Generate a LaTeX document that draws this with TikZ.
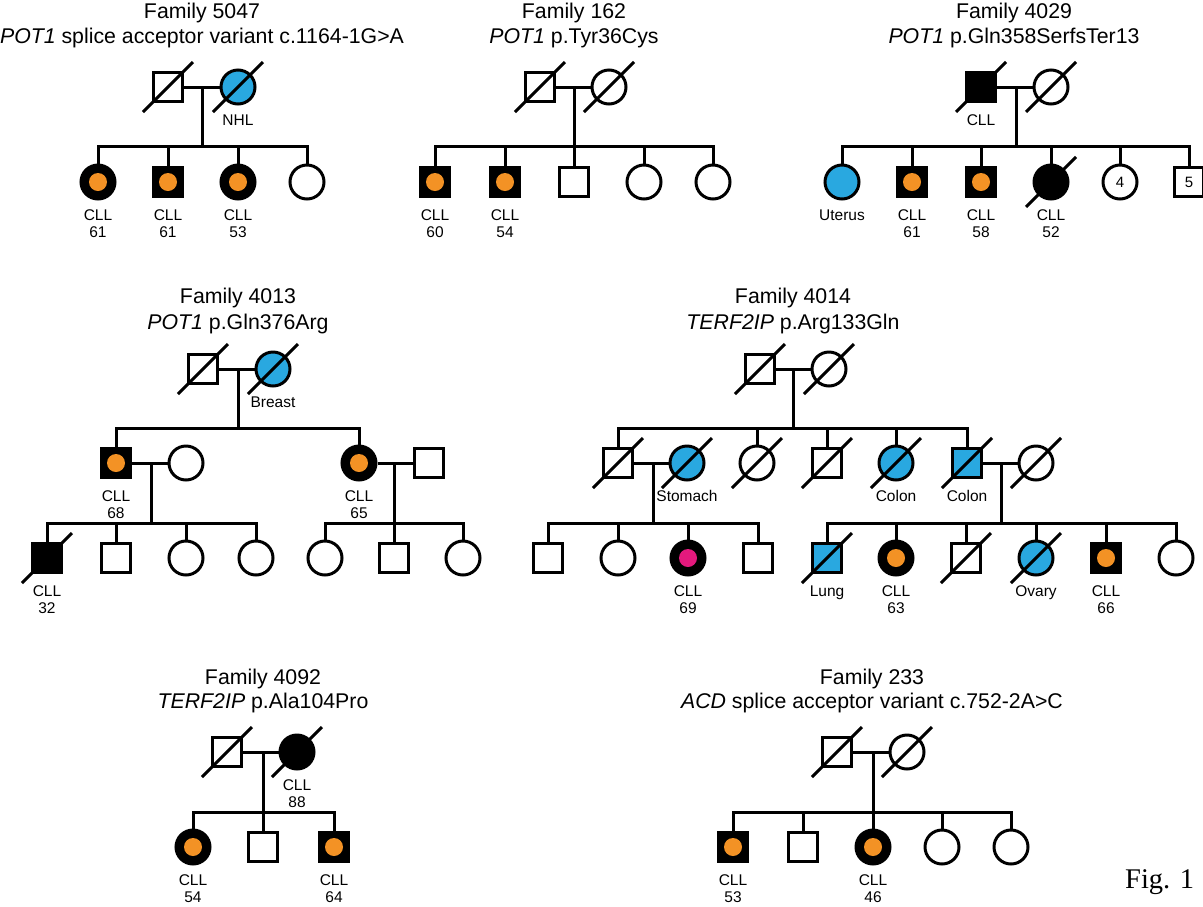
\documentclass[tikz,border=0pt]{standalone}
\usepackage{fontspec}
\setmainfont{Liberation Sans}
\newfontfamily\figfont{Liberation Serif}
\definecolor{cancer}{RGB}{41,168,224}
\definecolor{cllorange}{RGB}{243,146,37}
\definecolor{cllmag}{RGB}{228,25,125}
\tikzset{
  ln/.style={line width=3pt},
  ind/.style={draw, line width=3pt, inner sep=0pt, fill=white, font=\fontsize{15}{17}\selectfont},
  male/.style={ind, rectangle, minimum size=29.5pt},
  female/.style={ind, circle, minimum size=34pt},
  aff/.style={fill=black},
  canc/.style={fill=cancer},
  cllo/.style={fill=black, path picture={\fill[cllorange] (path picture bounding box.center) circle[radius=9pt];}},
  cllm/.style={fill=black, path picture={\fill[cllmag] (path picture bounding box.center) circle[radius=9pt];}},
  lbl/.style={anchor=base, inner sep=0pt, font=\fontsize{15.5}{17}\selectfont},
  ttl/.style={anchor=base, inner sep=0pt, font=\fontsize{21.3}{24}\selectfont},
}
% deceased slash through an individual
\newcommand\dec[1]{\draw[ln] ([shift={(-25,25)}]#1.center) -- ([shift={(25,-25)}]#1.center);}
% one- and two-line labels under an individual
\newcommand\one[2]{\node[lbl] (#1-t1) at ([yshift=-38pt]#1.center) {#2};}
\newcommand\two[3]{\node[lbl] (#1-t1) at ([yshift=-38pt]#1.center) {#2};
  \node[lbl] (#1-t2) at ([yshift=-55pt]#1.center) {#3};}
\begin{document}
\begin{tikzpicture}[x=1pt,y=-1pt]
\useasboundingbox (0,0) rectangle (1203,906);

% ---------------- Family 5047
\node[ttl] (t5047a) at (202,18) {Family 5047};
\node[ttl] (t5047b) at (202,43) {\textit{POT1} splice acceptor variant c.1164-1G>A};
\node[male] (f5047) at (168,87) {};
\node[female,canc] (m5047) at (238,87) {};
\coordinate (u5047) at (202,87);
\coordinate (s5047) at (202,146);
\node[female,cllo] (k5047a) at (98,182) {};
\node[male,cllo] (k5047b) at (168,182) {};
\node[female,cllo] (k5047c) at (238,182) {};
\node[female] (k5047d) at (307,182) {};
\draw[ln] (f5047) -- (m5047);
\draw[ln] (u5047) -- (s5047);
\draw[ln] (k5047a.north) |- (s5047) -| (k5047d.north);
\foreach \k in {b,c} \draw[ln] (k5047\k.north) -- (k5047\k.north |- s5047);
\dec{f5047}\dec{m5047}
\one{m5047}{NHL}
\two{k5047a}{CLL}{61}
\two{k5047b}{CLL}{61}
\two{k5047c}{CLL}{53}

% ---------------- Family 162
\node[ttl] (t162a) at (574,18) {Family 162};
\node[ttl] (t162b) at (574,43) {\textit{POT1} p.Tyr36Cys};
\node[male] (f162) at (540,87) {};
\node[female] (m162) at (609,87) {};
\coordinate (u162) at (574,87);
\coordinate (s162) at (574,146);
\node[male,cllo] (k162a) at (435,182) {};
\node[male,cllo] (k162b) at (505,182) {};
\node[male] (k162c) at (574,182) {};
\node[female] (k162d) at (644,182) {};
\node[female] (k162e) at (713,182) {};
\draw[ln] (f162) -- (m162);
\draw[ln] (u162) -- (s162);
\draw[ln] (k162a.north) |- (s162) -| (k162e.north);
\foreach \k in {b,c,d} \draw[ln] (k162\k.north) -- (k162\k.north |- s162);
\dec{f162}\dec{m162}
\two{k162a}{CLL}{60}
\two{k162b}{CLL}{54}

% ---------------- Family 4029
\node[ttl] (t4029a) at (1014,18) {Family 4029};
\node[ttl] (t4029b) at (1014,43) {\textit{POT1} p.Gln358SerfsTer13};
\node[male,aff] (f4029) at (981,87) {};
\node[female] (m4029) at (1051,87) {};
\coordinate (u4029) at (1016,87);
\coordinate (s4029) at (1016,146);
\node[female,canc] (k4029a) at (842,182) {};
\node[male,cllo] (k4029b) at (912,182) {};
\node[male,cllo] (k4029c) at (981,182) {};
\node[female,aff] (k4029d) at (1051,182) {};
\node[female] (k4029e) at (1120,182) {4};
\node[male] (k4029f) at (1189,182) {5};
\draw[ln] (f4029) -- (m4029);
\draw[ln] (u4029) -- (s4029);
\draw[ln] (k4029a.north) |- (s4029) -| (k4029f.north);
\foreach \k in {b,c,d,e} \draw[ln] (k4029\k.north) -- (k4029\k.north |- s4029);
\dec{f4029}\dec{m4029}\dec{k4029d}
\one{f4029}{CLL}
\one{k4029a}{Uterus}
\two{k4029b}{CLL}{61}
\two{k4029c}{CLL}{58}
\two{k4029d}{CLL}{52}

% ---------------- Family 4013
\node[ttl] (t4013a) at (238,303) {Family 4013};
\node[ttl] (t4013b) at (238,329) {\textit{POT1} p.Gln376Arg};
\node[male] (f4013) at (203,369) {};
\node[female,canc] (m4013) at (273,369) {};
\coordinate (u4013) at (238,369);
\coordinate (s4013) at (238,428);
\node[male,cllo] (g4013a) at (116,463) {};
\node[female] (w4013a) at (186,463) {};
\node[female,cllo] (g4013b) at (359,463) {};
\node[male] (h4013b) at (429,463) {};
\coordinate (ua4013) at (151,463);
\coordinate (sa4013) at (151,523);
\coordinate (ub4013) at (394,463);
\coordinate (sb4013) at (394,523);
\node[male,aff] (k4013a) at (47,558) {};
\node[male] (k4013b) at (116,558) {};
\node[female] (k4013c) at (186,558) {};
\node[female] (k4013d) at (256,558) {};
\node[female] (k4013e) at (325,558) {};
\node[male] (k4013f) at (394,558) {};
\node[female] (k4013g) at (463,558) {};
\draw[ln] (f4013) -- (m4013);
\draw[ln] (u4013) -- (s4013);
\draw[ln] (g4013a.north) |- (s4013) -| (g4013b.north);
\draw[ln] (g4013a) -- (w4013a);
\draw[ln] (g4013b) -- (h4013b);
\draw[ln] (ua4013) -- (sa4013);
\draw[ln] (ub4013) -- (sb4013);
\draw[ln] (k4013a.north) |- (sa4013) -| (k4013d.north);
\foreach \k in {b,c} \draw[ln] (k4013\k.north) -- (k4013\k.north |- sa4013);
\draw[ln] (k4013e.north) |- (sb4013) -| (k4013g.north);
\draw[ln] (k4013f.north) -- (sb4013);
\dec{f4013}\dec{m4013}\dec{k4013a}
\one{m4013}{Breast}
\two{g4013a}{CLL}{68}
\two{g4013b}{CLL}{65}
\two{k4013a}{CLL}{32}

% ---------------- Family 4014
\node[ttl] (t4014a) at (793,303) {Family 4014};
\node[ttl] (t4014b) at (793,329) {\textit{TERF2IP} p.Arg133Gln};
\node[male] (f4014) at (760,369) {};
\node[female] (m4014) at (829,369) {};
\coordinate (u4014) at (793,369);
\coordinate (s4014) at (793,428);
\node[male] (g4014a) at (618,463) {};
\node[female,canc] (w4014a) at (687,463) {};
\node[female] (g4014b) at (757,463) {};
\node[male] (g4014c) at (827,463) {};
\node[female,canc] (g4014d) at (896,463) {};
\node[male,canc] (g4014e) at (967,463) {};
\node[female] (w4014e) at (1036,463) {};
\coordinate (ua4014) at (653,463);
\coordinate (sa4014) at (653,523);
\coordinate (ue4014) at (1001,463);
\coordinate (se4014) at (1001,523);
\node[male] (k4014a) at (548,558) {};
\node[female] (k4014b) at (618,558) {};
\node[female,cllm] (k4014c) at (688,558) {};
\node[male] (k4014d) at (758,558) {};
\node[male,canc] (k4014e) at (827,558) {};
\node[female,cllo] (k4014f) at (896,558) {};
\node[male] (k4014g) at (966,558) {};
\node[female,canc] (k4014h) at (1036,558) {};
\node[male,cllo] (k4014i) at (1106,558) {};
\node[female] (k4014j) at (1176,558) {};
\draw[ln] (f4014) -- (m4014);
\draw[ln] (u4014) -- (s4014);
\draw[ln] (g4014a.north) |- (s4014) -| (g4014e.north);
\foreach \k in {b,c,d} \draw[ln] (g4014\k.north) -- (g4014\k.north |- s4014);
\draw[ln] (g4014a) -- (w4014a);
\draw[ln] (g4014e) -- (w4014e);
\draw[ln] (ua4014) -- (sa4014);
\draw[ln] (ue4014) -- (se4014);
\draw[ln] (k4014a.north) |- (sa4014) -| (k4014d.north);
\foreach \k in {b,c} \draw[ln] (k4014\k.north) -- (k4014\k.north |- sa4014);
\draw[ln] (k4014e.north) |- (se4014) -| (k4014j.north);
\foreach \k in {f,g,h,i} \draw[ln] (k4014\k.north) -- (k4014\k.north |- se4014);
\dec{f4014}\dec{m4014}
\dec{g4014a}\dec{w4014a}\dec{g4014b}\dec{g4014c}\dec{g4014d}\dec{g4014e}\dec{w4014e}
\dec{k4014e}\dec{k4014g}\dec{k4014h}
\one{w4014a}{Stomach}
\one{g4014d}{Colon}
\one{g4014e}{Colon}
\one{k4014e}{Lung}
\two{k4014c}{CLL}{69}
\two{k4014f}{CLL}{63}
\one{k4014h}{Ovary}
\two{k4014i}{CLL}{66}

% ---------------- Family 4092
\node[ttl] (t4092a) at (263,684) {Family 4092};
\node[ttl] (t4092b) at (263,708) {\textit{TERF2IP} p.Ala104Pro};
\node[male] (f4092) at (227,752) {};
\node[female,aff] (m4092) at (297,752) {};
\coordinate (u4092) at (263,752);
\coordinate (s4092) at (263,812);
\node[female,cllo] (k4092a) at (193,847) {};
\node[male] (k4092b) at (263,847) {};
\node[male,cllo] (k4092c) at (334,847) {};
\draw[ln] (f4092) -- (m4092);
\draw[ln] (u4092) -- (s4092);
\draw[ln] (k4092a.north) |- (s4092) -| (k4092c.north);
\draw[ln] (k4092b.north) -- (s4092);
\dec{f4092}\dec{m4092}
\two{m4092}{CLL}{88}
\two{k4092a}{CLL}{54}
\two{k4092c}{CLL}{64}

% ---------------- Family 233
\node[ttl] (t233a) at (872,684) {Family 233};
\node[ttl] (t233b) at (872,708) {\textit{ACD} splice acceptor variant c.752-2A>C};
\node[male] (f233) at (837,752) {};
\node[female] (m233) at (907,752) {};
\coordinate (u233) at (873,752);
\coordinate (s233) at (873,812);
\node[male,cllo] (k233a) at (733,847) {};
\node[male] (k233b) at (803,847) {};
\node[female,cllo] (k233c) at (873,847) {};
\node[female] (k233d) at (942,847) {};
\node[female] (k233e) at (1011,847) {};
\draw[ln] (f233) -- (m233);
\draw[ln] (u233) -- (s233);
\draw[ln] (k233a.north) |- (s233) -| (k233e.north);
\foreach \k in {b,c,d} \draw[ln] (k233\k.north) -- (k233\k.north |- s233);
\dec{f233}\dec{m233}
\two{k233a}{CLL}{53}
\two{k233c}{CLL}{46}

\node[anchor=base west, inner sep=0pt, font=\figfont\fontsize{28.5}{32}\selectfont] (fig) at (1125,888) {Fig. 1};
\end{tikzpicture}
\end{document}
